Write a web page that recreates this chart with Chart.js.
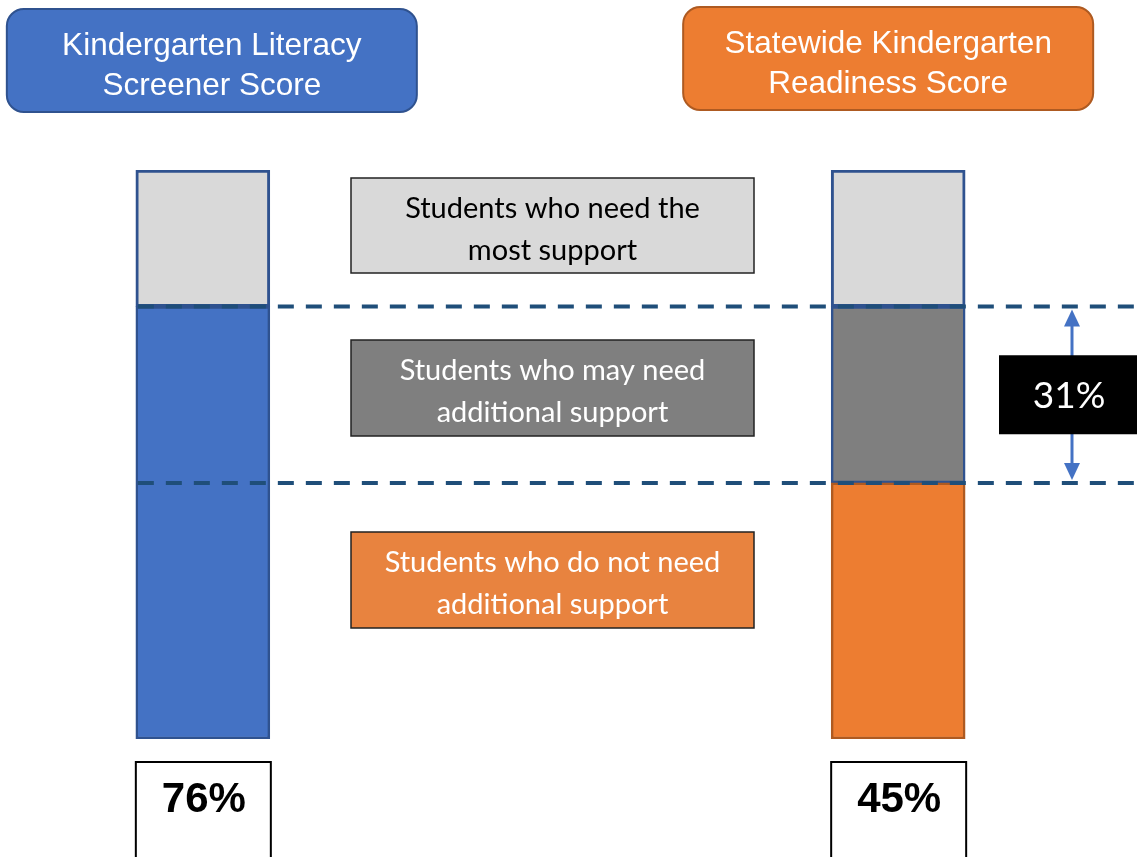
<!DOCTYPE html>
<html>
<head>
<meta charset="utf-8">
<script src="https://cdn.jsdelivr.net/npm/chart.js@4.4.1/dist/chart.umd.min.js"></script>
<style>
  html, body { margin: 0; padding: 0; background: #fff; }
  canvas { display: block; }
</style>
</head>
<body>
<canvas id="readinessChart" width="1137" height="857"></canvas>
<script>
// categories (middle slot is empty, it holds the legend boxes)
const categories = ['Kindergarten Literacy Screener Score', '', 'Statewide Kindergarten Readiness Score'];
const headerLines = [['Kindergarten Literacy', 'Screener Score'], null, ['Statewide Kindergarten', 'Readiness Score']];

// series values (%)
const noSupportValues = [76, null, 45];
const mayNeedValues = [null, null, 31];
const mostSupportValues = [24, null, 24];

const scoreLabels = ['76%', '', '45%'];
const gapLabel = '31%';

const legendTexts = [
    ['Students who need the', 'most support'],
    ['Students who may need', 'additional support'],
    ['Students who do not need', 'additional support']
];

const BLUE = '#4472C4';
const ORANGE = '#ED7D31';
const LIGHT_GRAY = '#D9D9D9';
const DARK_GRAY = '#7F7F7F';
const BAR_EDGE = '#2F528F';
const ORANGE_EDGE = '#AE5A21';

function roundRect(ctx, x, y, w, h, r) {
    ctx.beginPath();
    ctx.moveTo(x + r, y);
    ctx.lineTo(x + w - r, y);
    ctx.arcTo(x + w, y, x + w, y + r, r);
    ctx.lineTo(x + w, y + h - r);
    ctx.arcTo(x + w, y + h, x + w - r, y + h, r);
    ctx.lineTo(x + r, y + h);
    ctx.arcTo(x, y + h, x, y + h - r, r);
    ctx.lineTo(x, y + r);
    ctx.arcTo(x, y, x + r, y, r);
    ctx.closePath();
}

function textBox(ctx, cx, cy, w, h, fill, stroke, lines, color, font, lineGap) {
    ctx.fillStyle = fill;
    ctx.fillRect(cx - w / 2, cy - h / 2, w, h);
    ctx.strokeStyle = stroke;
    ctx.lineWidth = 1.5;
    ctx.strokeRect(cx - w / 2, cy - h / 2, w, h);
    ctx.fillStyle = color;
    ctx.font = font;
    ctx.textAlign = 'center';
    ctx.textBaseline = 'middle';
    lines.forEach((t, i) => {
        ctx.fillText(t, cx, cy + 4 + (i - (lines.length - 1) / 2) * lineGap);
    });
}

// Extra drawings: headers, legend boxes, dashed guides, gap arrow, score boxes
const decorPlugin = {
    id: 'decor',
    afterDatasetsDraw(chart) {
        const ctx = chart.ctx;
        const x = chart.scales.x;
        const y = chart.scales.y;
        const area = chart.chartArea;
        const half = 67;
        const leftX = x.getPixelForValue(0);
        const midX = x.getPixelForValue(1);
        const rightX = x.getPixelForValue(2);

        ctx.save();

        // headers
        const headerStyle = [
            { cx: leftX + 9, top: 9, fill: BLUE, edge: BAR_EDGE },
            null,
            { cx: rightX - 10, top: 7, fill: ORANGE, edge: ORANGE_EDGE }
        ];
        headerStyle.forEach((h, i) => {
            if (!h) return;
            roundRect(ctx, h.cx - 205, h.top, 410, 103, 17);
            ctx.fillStyle = h.fill;
            ctx.fill();
            ctx.lineWidth = 2;
            ctx.strokeStyle = h.edge;
            ctx.stroke();
            ctx.fillStyle = '#fff';
            ctx.font = '31.5px "Liberation Sans", Arial, sans-serif';
            ctx.textAlign = 'center';
            ctx.textBaseline = 'middle';
            headerLines[i].forEach((t, k) => {
                ctx.fillText(t, h.cx, h.top + 37 + k * 40);
            });
        });

        // legend boxes in the middle column
        const legendFont = '29px Lato, "Noto Sans", sans-serif';
        textBox(ctx, midX + 2, 225.5, 403, 95, LIGHT_GRAY, '#222', legendTexts[0], '#000', legendFont, 42);
        textBox(ctx, midX + 2, 388, 403, 96, DARK_GRAY, '#222', legendTexts[1], '#fff', legendFont, 42);
        textBox(ctx, midX + 2, 580, 403, 96, '#E8833F', '#222', legendTexts[2], '#fff', legendFont, 42);

        // dashed guides at the two score levels
        const topY = y.getPixelForValue(noSupportValues[0]);
        const lowY = y.getPixelForValue(noSupportValues[2]);
        ctx.strokeStyle = '#1F4E79';
        ctx.lineWidth = 4;
        ctx.setLineDash([16, 12]);
        [topY, lowY].forEach(py => {
            ctx.beginPath();
            ctx.moveTo(leftX - half + 2, py);
            ctx.lineTo(chart.width, py);
            ctx.stroke();
        });
        ctx.setLineDash([]);

        // double-headed gap arrow
        const ax = area.right;
        ctx.strokeStyle = BLUE;
        ctx.fillStyle = BLUE;
        ctx.lineWidth = 3;
        ctx.beginPath();
        ctx.moveTo(ax, topY + 14);
        ctx.lineTo(ax, lowY - 14);
        ctx.stroke();
        [[topY + 3, 1], [lowY - 3, -1]].forEach(([tip, dir]) => {
            ctx.beginPath();
            ctx.moveTo(ax, tip);
            ctx.lineTo(ax - 8, tip + dir * 17);
            ctx.lineTo(ax + 8, tip + dir * 17);
            ctx.closePath();
            ctx.fill();
        });

        // gap label
        const gy = (topY + lowY) / 2;
        ctx.fillStyle = '#000';
        ctx.fillRect(ax - 73, gy - 39.5, 146, 79);
        ctx.fillStyle = '#fff';
        ctx.font = '37px Lato, "Noto Sans", sans-serif';
        ctx.textAlign = 'center';
        ctx.textBaseline = 'middle';
        ctx.fillText(gapLabel, ax - 3, gy + 1);

        // score boxes under the bars
        [leftX, rightX].forEach((bx, k) => {
            const label = scoreLabels[k * 2];
            ctx.fillStyle = '#fff';
            ctx.fillRect(bx - half, 762, 135, 110);
            ctx.strokeStyle = '#000';
            ctx.lineWidth = 2;
            ctx.strokeRect(bx - half, 762, 135, 110);
            ctx.fillStyle = '#000';
            ctx.font = 'bold 42px "Liberation Sans", Arial, sans-serif';
            ctx.textAlign = 'center';
            ctx.textBaseline = 'middle';
            ctx.fillText(label, bx + 1, 800);
        });

        ctx.restore();
    }
};

const ctx = document.getElementById('readinessChart').getContext('2d');
const chart = new Chart(ctx, {
    type: 'bar',
    data: {
        labels: categories,
        datasets: [
            {
                label: 'Students who do not need additional support',
                data: noSupportValues,
                backgroundColor: [BLUE, BLUE, ORANGE],
                borderColor: [BAR_EDGE, BAR_EDGE, ORANGE_EDGE],
                borderWidth: 2.5,
                borderSkipped: false
            },
            {
                label: 'Students who may need additional support',
                data: mayNeedValues,
                backgroundColor: DARK_GRAY,
                borderColor: BAR_EDGE,
                borderWidth: 2.5,
                borderSkipped: false
            },
            {
                label: 'Students who need the most support',
                data: mostSupportValues,
                backgroundColor: LIGHT_GRAY,
                borderColor: BAR_EDGE,
                borderWidth: 3,
                borderSkipped: false
            }
        ]
    },
    options: {
        responsive: false,
        animation: false,
        layout: { padding: { top: 170, bottom: 118, left: 29, right: 65 } },
        datasets: { bar: { barThickness: 134 } },
        scales: {
            x: { display: false, stacked: true },
            y: { display: false, stacked: true, min: 0, max: 100 }
        },
        plugins: {
            legend: { display: false },
            tooltip: { enabled: false }
        }
    },
    plugins: [decorPlugin]
});
</script>
</body>
</html>
